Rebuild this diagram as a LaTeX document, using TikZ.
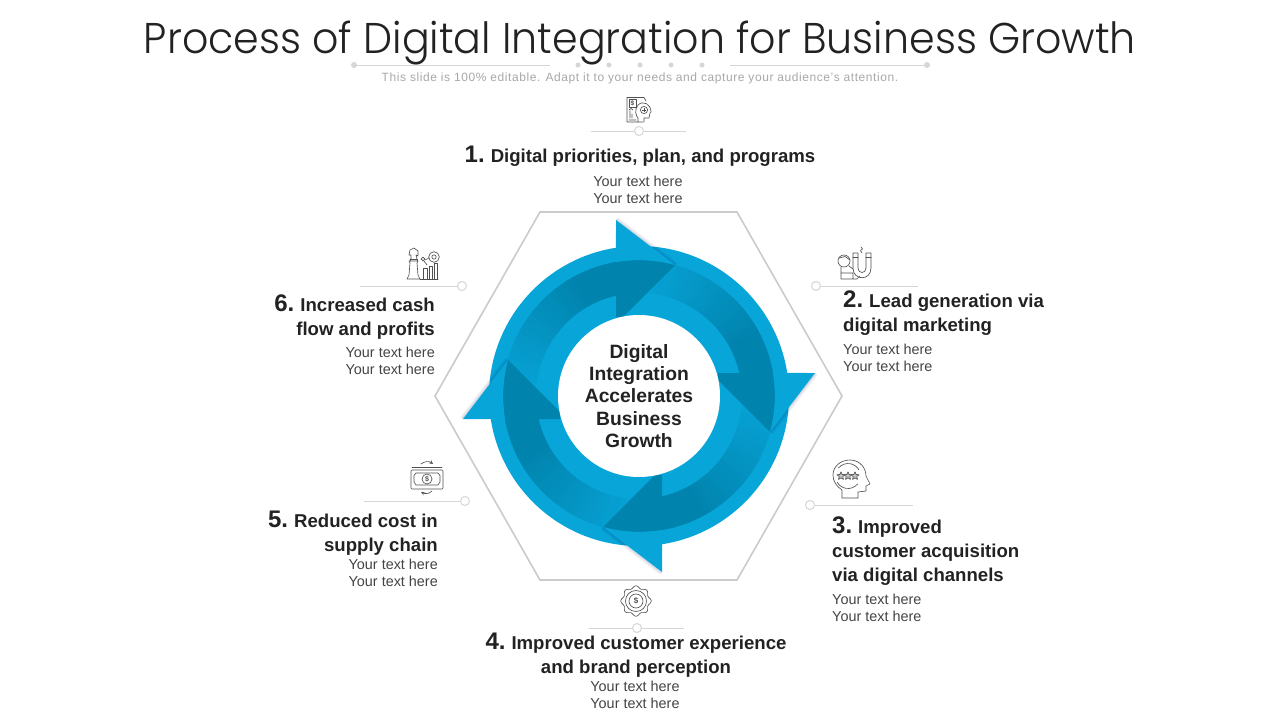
\documentclass[tikz,border=0pt]{standalone}
\usepackage{fontspec}
\setmainfont{Liberation Sans}
\newfontfamily\titlefont{Poppins Light}
\usetikzlibrary{calc}
\definecolor{base}{HTML}{08A5D9}
\definecolor{deep}{HTML}{0083AD}
\definecolor{ink}{HTML}{222222}
\definecolor{soft}{HTML}{444444}
\definecolor{faint}{HTML}{A8A8A8}
\definecolor{rule}{HTML}{D6D6D6}
\definecolor{icon}{HTML}{505050}
\newcommand{\hd}[2]{{\fontsize{24}{24}\selectfont #1}\hspace{6pt}#2}
\tikzset{
  head/.style={inner sep=0pt,font=\bfseries\fontsize{18.6}{24}\selectfont,text=ink},
  body/.style={inner sep=0pt,font=\fontsize{14.4}{17}\selectfont,text=soft},
  leader/.style={draw=rule,line width=0.9pt},
  pin/.style={circle,draw=rule,fill=white,line width=1pt,minimum size=9pt,inner sep=0pt},
  dot/.style={circle,fill=rule,minimum size=6pt,inner sep=0pt},
  ico/.style={draw=icon,line width=0.65pt,line join=round,line cap=round},
  tag/.style={inner sep=0pt,text=icon,font=\bfseries\fontsize{7}{7}\selectfont},
}
\newcommand{\spintail}[1]{%
\begin{scope}[x=1pt,y=1pt,shift={(639pt,-396pt)},rotate=#1]
  \foreach \i in {0,...,27}{
    \pgfmathsetmacro{\aa}{98+\i*3}
    \pgfmathsetmacro{\bb}{\aa+3.6}
    \pgfmathsetmacro{\mx}{min(100,max(0,125-\i*4.6))}
    \fill[deep!\mx!base] (\aa:103pt) arc[start angle=\aa,end angle=\bb,radius=103pt]
      -- (\bb:136pt) arc[start angle=\bb,end angle=\aa,radius=136pt] -- cycle;
  }
\end{scope}}
\newcommand{\spinhead}[1]{%
\begin{scope}[x=1pt,y=1pt,shift={(639pt,-396pt)},rotate=#1]
  \fill[deep] (36pt,131pt) -- (-16pt,79pt) -- (-23pt,79pt) -- (-23pt,134pt)
     arc[start angle=99.7,end angle=74.6,radius=136pt] -- cycle;
  \foreach \o/\p in {3.6/0.04,2.4/0.05,1.2/0.07}{
    \fill[black!70!blue,opacity=\p] ($(-23pt,176pt)+(0.61*\o pt,0.8*\o pt)$) -- ($(36pt,131pt)+(0.61*\o pt,0.8*\o pt)$) -- (36pt,131pt) -- (-23pt,176pt) -- cycle;
  }
  \fill[base] (-23pt,176pt) -- (36pt,131pt)
     arc[start angle=74.6,end angle=99.7,radius=136pt] -- cycle;
\end{scope}}
\begin{document}
\begin{tikzpicture}[x=1pt,y=-1pt]
\useasboundingbox (0,0) rectangle (1280,720);
\fill[white] (0,0) rectangle (1280,720);

% title
\node[inner sep=0pt,text=ink,font=\titlefont\fontsize{43}{43}\selectfont] (title) at (640,43) {\scalebox{0.957}[1]{Process of Digital Integration for Business Growth}};
\node[dot] (dl) at (354,65) {};
\node[dot] (dr) at (927,65) {};
\coordinate (dle) at (550,65);
\coordinate (drs) at (730,65);
\draw[leader] (dl) -- (dle);
\draw[leader] (drs) -- (dr);
\foreach \x [count=\k] in {578,609,640,671,702}{\node[dot,minimum size=5pt] (d\k) at (\x,65) {};}
\node[inner sep=0pt,text=faint,font=\fontsize{12}{14}\selectfont] (sub) at (640,78) {\addfontfeatures{LetterSpace=4.8}This slide is 100\% editable. Adapt it to your needs and capture your audience's attention.};

% hexagon
\draw[draw=rule!95!black,line width=1.6pt,line join=miter] (540,212) -- (737,212) -- (842,396) -- (737,580) -- (540,580) -- (435,396) -- cycle;

% wheel
\fill[base] (639,396) circle[radius=150];
\spintail{0}
\spintail{-90}
\spintail{-180}
\spintail{-270}
\spinhead{0}
\spinhead{-90}
\spinhead{-180}
\spinhead{-270}
\node[circle,fill=white,minimum size=162pt,inner sep=0pt] (hub) at (639,396) {};
\node[inner sep=0pt,align=center,text=ink,font=\bfseries\fontsize{19.3}{22.4}\selectfont] (hubtext) at (639,396) {Digital\\Integration\\Accelerates\\Business\\Growth};

% leaders
\node[pin] (p1) at (639,131) {};
\coordinate (a1) at (591,131); \coordinate (b1) at (686,131);
\draw[leader] (a1) -- (p1) -- (b1);
\node[pin] (p2) at (816,286) {};
\coordinate (b2) at (918,286);
\draw[leader] (p2) -- (b2);
\node[pin] (p3) at (810,505) {};
\coordinate (b3) at (913,505);
\draw[leader] (p3) -- (b3);
\node[pin] (p4) at (637,628) {};
\coordinate (a4) at (589,628); \coordinate (b4) at (684,628);
\draw[leader] (a4) -- (p4) -- (b4);
\node[pin] (p5) at (465,501) {};
\coordinate (b5) at (364,501);
\draw[leader] (p5) -- (b5);
\node[pin] (p6) at (462,286) {};
\coordinate (b6) at (360,286);
\draw[leader] (p6) -- (b6);

% labels
\node[head] (h1) at (640,156) {\hd{1.}{Digital priorities, plan, and programs}};
\node[body,align=center] (t1) at (638,189.5) {Your text here\\Your text here};
\node[head,anchor=west,align=left] (h2) at (843,313.5) {\hd{2.}{Lead generation via}\\digital marketing};
\node[body,anchor=west,align=left] (t2) at (843,358) {Your text here\\Your text here};
\node[head,anchor=west,align=left] (h3) at (832,551.5) {\hd{3.}{Improved}\\customer acquisition\\via digital channels};
\node[body,anchor=west,align=left] (t3) at (832,607.5) {Your text here\\Your text here};
\node[head,align=center] (h4) at (636,655) {\hd{4.}{Improved customer experience}\\and brand perception};
\node[body,align=center] (t4) at (635,694.5) {Your text here\\Your text here};
\node[head,anchor=east,align=right] (h5) at (438,533) {\hd{5.}{Reduced cost in}\\supply chain};
\node[body,anchor=east,align=right] (t5) at (438,572.5) {Your text here\\Your text here};
\node[head,anchor=east,align=right] (h6) at (435,317) {\hd{6.}{Increased cash}\\flow and profits};
\node[body,anchor=east,align=right] (t6) at (435,361) {Your text here\\Your text here};

% icon 1
\draw[ico] (646,101) -- (644,97.5) -- (627,97.5) -- (627,122) -- (643,122);
\draw[ico] (629,99.5) rectangle (636,107);
\node[tag,font=\bfseries\fontsize{6.5}{6.5}\selectfont] (i1) at (632.5,103.2) {\$};
\draw[ico] (629,110) -- (631,108.5) -- (633,110) (630,111) -- (630,118) (632,114) -- (632,118) (629,120) -- (636,120);
\draw[ico] (644,122) -- (644,118) -- (649,118) -- (650,113) -- (651,112) .. controls (651,104) and (643,100) .. (638,105) .. controls (634,110) and (636,116) .. (638,118) -- (638,122);
\draw[ico] (644,110) circle[radius=3.6];
\draw[ico] (644,108.2) -- (644,111.8) (642.2,110) -- (645.8,110);

% icon 2
\draw[ico] (853,253) -- (853,268) .. controls (853,281) and (871,281) .. (871,268) -- (871,253) -- (866,253) -- (866,268) .. controls (866,274) and (858,274) .. (858,268) -- (858,253) -- cycle;
\draw[ico] (853,257) -- (858,257) (866,257) -- (871,257);
\draw[ico] (861,247) -- (862.5,249) -- (860.5,250.5) -- (862,253);
\draw[ico] (844,261) circle[radius=6];
\draw[ico] (839,258) -- (845,256.5) -- (850,260);
\draw[ico] (841,267) -- (841,279) -- (857,279) -- (860,276) (841,273) -- (853,273) -- (853,279) (849,266) -- (853,269);

% icon 3
\draw[ico] (842,498) -- (842,490) .. controls (836,486) and (833,481) .. (833,475) .. controls (833,466) and (841,460) .. (850,460) .. controls (860,460) and (866,468) .. (866,476) -- (870,484) -- (866,486) -- (866,491) -- (858,492) -- (858,498) -- cycle;
\draw[ico] (848,476) ++(40:12.5) arc[start angle=40,end angle=150,radius=12.5];
\draw[ico] (848,476) ++(220:12.5) arc[start angle=220,end angle=330,radius=12.5];
\foreach \sx in {-7,0,7}{
  \draw[ico,fill=icon!35] plot[domain=0:360,samples=11] ({848+\sx+(mod(round(\x/36),2)==0?4.2:1.9)*sin(\x)},{476-(mod(round(\x/36),2)==0?4.2:1.9)*cos(\x)});
}

% icon 4
\begin{scope}[shift={(636,601)}]
\draw[ico] plot[domain=0:360,samples=145,smooth] (\x:{14+1.2*cos(8*\x)});
\draw[ico] (0,0) circle[radius=10.5];
\draw[ico] (0,0) circle[radius=7];
\end{scope}
\node[tag,font=\bfseries\fontsize{8}{8}\selectfont] (i4) at (636,601) {\$};

% icon 5
\draw[ico,rounded corners=1pt] (411,470) rectangle (443,489);
\draw[ico] (412,467) -- (442,467);
\draw[ico] (416,473) -- (438,473) -- (440,475.5) -- (440,482) -- (438,485) -- (416,485) -- (414,482) -- (414,475.5) -- cycle;
\draw[ico] (427,479) circle[radius=5];
\node[tag] (i5) at (427,479) {\$};
\draw[ico,->,>=stealth] (421,464) .. controls (425,461) and (429,461) .. (433,464);
\draw[ico,->,>=stealth] (432,491) .. controls (429,494) and (425,494) .. (421,492);

% icon 6
\draw[ico] (407,279) -- (420,279) -- (418,275) -- (417,263) -- (418,261) -- (409,261) -- (410,263) -- (409,275) -- cycle;
\draw[ico] (410,259) -- (417,259) -- (417,261) (410,259) -- (410,261);
\draw[ico] (411,259) -- (411,255) -- (409,255) -- (410,250) -- (414,248) -- (418,251) -- (418,256) -- (416,255) -- (417,259);
\draw[ico] (423,279) -- (423,268) -- (427,268) -- (427,279) (429,279) -- (429,266) -- (432.5,266) -- (432.5,279) (434,279) -- (434,263) -- (437.5,263) -- (437.5,279);
\draw[ico] (420,279) -- (438,279);
\draw[ico] (434,257) circle[radius=5.3];
\draw[ico] (434,257) circle[radius=2.2];
\draw[ico] (423,259) circle[radius=1.9];
\draw[ico] (425,260) -- (429,258) (424,261) -- (427,265);
\end{tikzpicture}
\end{document}
